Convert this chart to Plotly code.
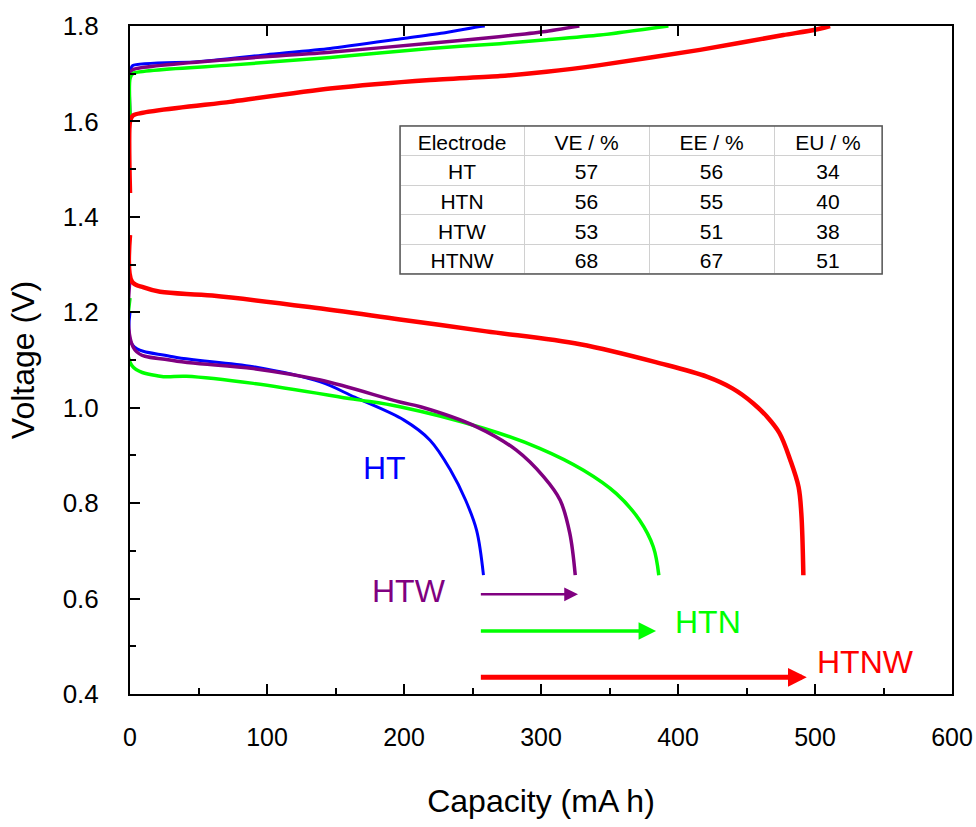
import plotly.graph_objects as go

# ---------------- data ----------------
electrodes = ["HT", "HTN", "HTW", "HTNW"]
colors = {"HT": "#0000FF", "HTN": "#00FF00", "HTW": "#800080", "HTNW": "#FF0000"}
widths = {"HT": 3, "HTN": 3.5, "HTW": 3.5, "HTNW": 4.5}

# charge curves (capacity mA h, voltage V)
ht_chg_cap = [0, 0, 2, 49, 100, 146, 199.5, 230, 255.5, 259]
ht_chg_v = [1.60, 1.705, 1.717, 1.725, 1.740, 1.753, 1.774, 1.786, 1.799, 1.80]
htw_chg_cap = [0, 0, 2.4, 73, 146, 219, 260, 301.7, 328]
htw_chg_v = [1.60, 1.70, 1.709, 1.730, 1.745, 1.764, 1.775, 1.788, 1.80]
htn_chg_cap = [0, 0, 2.4, 73, 146, 219, 270, 304, 343, 393]
htn_chg_v = [1.61, 1.69, 1.701, 1.718, 1.734, 1.753, 1.763, 1.771, 1.781, 1.80]
htnw_chg_cap = [0, 0, 2.4, 73, 146, 219, 270, 304, 343, 416, 477, 500, 511]
htnw_chg_v = [1.45, 1.60, 1.613, 1.641, 1.669, 1.687, 1.695, 1.704, 1.718, 1.750, 1.781, 1.792, 1.80]

# discharge curves
ht_dis_cap = [0, 2, 29, 90, 139, 164, 200, 219, 234, 245, 253, 258]
ht_dis_v = [1.20, 1.131, 1.108, 1.086, 1.054, 1.022, 0.974, 0.932, 0.869, 0.806, 0.743, 0.649]
htw_dis_cap = [0, 3.6, 29, 90, 139, 197, 212, 253, 282, 302, 314, 321, 325]
htw_dis_v = [1.27, 1.121, 1.100, 1.082, 1.058, 1.012, 1.002, 0.960, 0.911, 0.855, 0.806, 0.737, 0.649]
htn_dis_cap = [0, 1.2, 22, 41, 90, 163, 197, 258, 299, 331, 355, 372, 382, 386]
htn_dis_v = [1.23, 1.089, 1.066, 1.066, 1.051, 1.018, 1.002, 0.957, 0.915, 0.869, 0.820, 0.764, 0.708, 0.649]
htnw_dis_cap = [0, 1.5, 10, 22, 60, 131, 197, 260, 328.5, 387, 421, 440, 455, 465, 474, 482, 488, 490, 491.5]
htnw_dis_v = [1.362, 1.264, 1.252, 1.243, 1.235, 1.211, 1.185, 1.16, 1.133, 1.093, 1.065, 1.040,
              1.009, 0.981, 0.947, 0.890, 0.834, 0.779, 0.649]

# arrows: from HT capacity to each electrode's capacity
arrow_start_cap = 255
arrow_end_cap = {"HTW": 327, "HTN": 384, "HTNW": 494}
arrow_v = {"HTW": 0.609, "HTN": 0.532, "HTNW": 0.435}
label_pos = {"HT": (186, 0.873), "HTW": (204, 0.616), "HTN": (422, 0.551), "HTNW": (537, 0.467)}

# table
table_header = ["Electrode", "VE / %", "EE / %", "EU / %"]
table_electrode = ["HT", "HTN", "HTW", "HTNW"]
table_ve = [57, 56, 53, 68]
table_ee = [56, 55, 51, 67]
table_eu = [34, 40, 38, 51]

FONT = "Liberation Sans, Arial, sans-serif"

fig = go.Figure()

curves = [
    ("HT", ht_chg_cap, ht_chg_v, 0.6), ("HTW", htw_chg_cap, htw_chg_v, 0.6),
    ("HTN", htn_chg_cap, htn_chg_v, 0.6), ("HTNW", htnw_chg_cap, htnw_chg_v, 0.6),
    ("HT", ht_dis_cap, ht_dis_v, 1.0), ("HTN", htn_dis_cap, htn_dis_v, 1.0),
    ("HTW", htw_dis_cap, htw_dis_v, 1.0), ("HTNW", htnw_dis_cap, htnw_dis_v, 1.0),
]
for name, xs, ys, sm in curves:
    fig.add_trace(go.Scatter(x=xs, y=ys, mode="lines", showlegend=False,
                             line=dict(color=colors[name], width=widths[name], shape="spline", smoothing=sm)))

# invisible trace for top axis
fig.add_trace(go.Scatter(x=[None], y=[None], xaxis="x2", showlegend=False, hoverinfo="skip"))

# table
fig.add_trace(go.Table(
    domain=dict(x=[0.3285, 0.915], y=[0.622, 0.8503]),
    columnwidth=[124, 125, 125, 108],
    header=dict(values=table_header, height=29.6, align="center",
                fill_color="white", line=dict(color="#d0d0d0", width=1),
                font=dict(family=FONT, size=21, color="black")),
    cells=dict(values=[table_electrode, table_ve, table_ee, table_eu], height=29.6, align="center",
               fill_color="white", line=dict(color="#d0d0d0", width=1),
               font=dict(family=FONT, size=21, color="black")),
))

annotations = []
for name in ["HTW", "HTN", "HTNW"]:
    w = {"HTW": 2.5, "HTN": 3.5, "HTNW": 5}[name]
    s = {"HTW": 1.1, "HTN": 1.0, "HTNW": 0.75}[name]
    annotations.append(dict(x=arrow_end_cap[name], y=arrow_v[name], ax=arrow_start_cap, ay=arrow_v[name],
                            xref="x", yref="y", axref="x", ayref="y", text="", showarrow=True,
                            arrowhead=2, arrowsize=s, arrowwidth=w, arrowcolor=colors[name], standoff=0))
for name, (lx, ly) in label_pos.items():
    annotations.append(dict(x=lx, y=ly, xref="x", yref="y", text=name, showarrow=False,
                            font=dict(family=FONT, size=32, color=colors[name])))

fig.update_layout(
    width=976, height=827,
    margin=dict(l=130, r=24, t=26, b=133, autoexpand=False),
    plot_bgcolor="white", paper_bgcolor="white",
    font=dict(family=FONT, color="black"),
    annotations=annotations,
    shapes=[dict(type="rect", xref="paper", yref="paper", x0=0.3285, x1=0.915,
                 y0=(694 - 274) / 668, y1=0.8503, line=dict(color="#555555", width=1.5))],
    xaxis=dict(range=[0, 600], dtick=100, tick0=0, ticks="inside", ticklen=10, tickwidth=2,
               tickcolor="black", showline=True, linewidth=2, linecolor="black", mirror=True,
               showgrid=False, zeroline=False, automargin=False,
               minor=dict(ticks="inside", ticklen=6, tickwidth=1.5, dtick=50, tickcolor="black"),
               tickfont=dict(family=FONT, size=25), ticklabelstandoff=20,
               title=dict(text="Capacity (mA h)", font=dict(family=FONT, size=32), standoff=40)),
    xaxis2=dict(overlaying="x", side="top", matches="x", anchor="y", dtick=100, tick0=0,
                ticks="inside", ticklen=10, tickwidth=2, tickcolor="black", automargin=False,
                showticklabels=False, showline=False, showgrid=False, zeroline=False),
    yaxis=dict(range=[0.4, 1.8], dtick=0.2, tick0=0.4, tickformat=".1f", ticks="inside",
               ticklen=10, tickwidth=2, tickcolor="black", showline=True, linewidth=2,
               linecolor="black", mirror=True, showgrid=False, zeroline=False, automargin=False,
               minor=dict(ticks="inside", ticklen=6, tickwidth=1.5, dtick=0.1, tickcolor="black"),
               tickfont=dict(family=FONT, size=26), ticklabelstandoff=24,
               title=dict(text="Voltage (V)", font=dict(family=FONT, size=32), standoff=18)),
)

fig.write_html("out.html")
